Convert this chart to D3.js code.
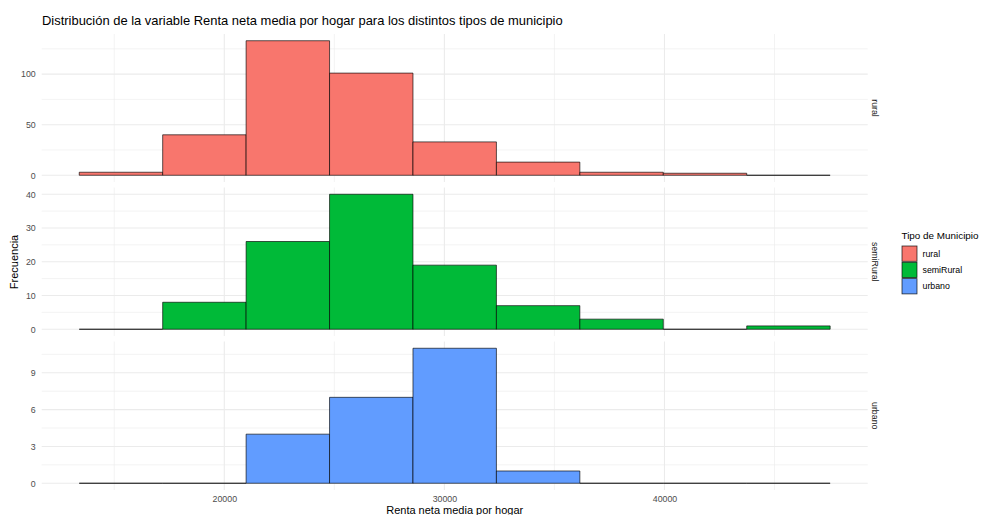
<!DOCTYPE html>
<html>
<head>
<meta charset="utf-8">
<script src="https://cdn.jsdelivr.net/npm/d3@7"></script>
<style>
  html, body { margin: 0; padding: 0; background: #fff; }
  svg { display: block; font-family: "Liberation Sans", Arial, sans-serif; }
</style>
</head>
<body>
<svg id="chart" width="981" height="515"></svg>
<script>
// ---- data ----
const categories = ["rural", "semiRural", "urbano"];
const binStart = 13409;
const binWidth = 3791;
const ruralCounts = [3, 40, 133, 101, 33, 13, 3, 2, 0];
const semiRuralCounts = [0, 8, 26, 40, 19, 7, 3, 0, 1];
const urbanoCounts = [0, 0, 4, 7, 11, 1, 0, 0, 0];
const seriesCounts = [ruralCounts, semiRuralCounts, urbanoCounts];
const colors = ["#F8766D", "#00BA38", "#619CFF"];
const xTicks = [20000, 30000, 40000];
const xMinor = [15000, 25000, 35000, 45000];
const yTicksRural = [0, 50, 100];
const yMinorRural = [25, 75, 125];
const yTicksSemi = [0, 10, 20, 30, 40];
const yMinorSemi = [5, 15, 25, 35];
const yTicksUrb = [0, 3, 6, 9];
const yMinorUrb = [1.5, 4.5, 7.5, 10.5];
const yTicks = [yTicksRural, yTicksSemi, yTicksUrb];
const yMinor = [yMinorRural, yMinorSemi, yMinorUrb];
const titleText = "Distribución de la variable Renta neta media por hogar para los distintos tipos de municipio";
const xTitle = "Renta neta media por hogar";
const yTitle = "Frecuencia";
const legendTitle = "Tipo de Municipio";

// ---- layout ----
const svg = d3.select("#chart");
const px0 = 41.7, px1 = 867.7;
const panels = [[34, 182], [187.5, 336], [341.5, 490]];

const nBins = ruralCounts.length;
const dataMin = binStart, dataMax = binStart + nBins * binWidth;
const xExp = (dataMax - dataMin) * 0.05;
const x = d3.scaleLinear().domain([dataMin - xExp, dataMax + xExp]).range([px0, px1]);

const gridCol = "#EBEBEB";

// title
svg.append("text").attr("x", 42).attr("y", 25)
  .attr("font-size", 12.95).attr("fill", "#000").text(titleText);

categories.forEach((cat, i) => {
  const counts = seriesCounts[i];
  const [top, bot] = panels[i];
  const maxC = d3.max(counts);
  const yExp = maxC * 0.05;
  const y = d3.scaleLinear().domain([-yExp, maxC + yExp]).range([bot, top]);
  const g = svg.append("g");

  // minor grid
  g.selectAll(".ymin").data(yMinor[i].filter(v => v <= maxC + yExp)).enter().append("line")
    .attr("x1", px0).attr("x2", px1).attr("y1", d => y(d)).attr("y2", d => y(d))
    .attr("stroke", gridCol).attr("stroke-width", 0.6);
  g.selectAll(".xmin").data(xMinor).enter().append("line")
    .attr("y1", top).attr("y2", bot).attr("x1", d => x(d)).attr("x2", d => x(d))
    .attr("stroke", gridCol).attr("stroke-width", 0.6);
  // major grid
  g.selectAll(".ymaj").data(yTicks[i]).enter().append("line")
    .attr("x1", px0).attr("x2", px1).attr("y1", d => y(d)).attr("y2", d => y(d))
    .attr("stroke", gridCol).attr("stroke-width", 1.1);
  g.selectAll(".xmaj").data(xTicks).enter().append("line")
    .attr("y1", top).attr("y2", bot).attr("x1", d => x(d)).attr("x2", d => x(d))
    .attr("stroke", gridCol).attr("stroke-width", 1.1);

  // y axis labels
  const yAxis = d3.axisLeft(y).tickValues(yTicks[i]).tickSize(0).tickPadding(6);
  const ga = svg.append("g").attr("transform", `translate(${px0},0)`).call(yAxis);
  ga.select(".domain").remove();
  ga.selectAll("text").attr("font-size", 8.8).attr("fill", "#4D4D4D")
    .attr("font-family", "'Liberation Sans', Arial, sans-serif");

  // bars
  g.selectAll(".bar").data(counts).enter().append("path")
    .attr("d", (d, j) => {
      const x0 = x(binStart + j * binWidth), x1 = x(binStart + (j + 1) * binWidth);
      return `M${x0},${y(0)}V${y(d)}H${x1}V${y(0)}Z`;
    })
    .attr("fill", colors[i]).attr("stroke", "#000").attr("stroke-opacity", 0.8)
    .attr("stroke-width", 0.8);

  // strip label
  const cy = (top + bot) / 2;
  svg.append("text").attr("transform", `translate(871.5,${cy}) rotate(90)`)
    .attr("text-anchor", "middle").attr("font-size", 8.8).attr("fill", "#1A1A1A")
    .text(cat);
});

// x axis labels
const xAxis = d3.axisBottom(x).tickValues(xTicks).tickSize(0).tickPadding(6).tickFormat(d3.format("d"));
const gx = svg.append("g").attr("transform", `translate(0,${panels[2][1]})`).call(xAxis);
gx.select(".domain").remove();
gx.selectAll("text").attr("font-size", 8.8).attr("fill", "#4D4D4D")
  .attr("font-family", "'Liberation Sans', Arial, sans-serif");

// axis titles
svg.append("text").attr("x", (px0 + px1) / 2).attr("y", 514).attr("text-anchor", "middle")
  .attr("font-size", 11).attr("fill", "#000").text(xTitle);
svg.append("text").attr("transform", `translate(17.5,262) rotate(-90)`).attr("text-anchor", "middle")
  .attr("font-size", 11).attr("fill", "#000").text(yTitle);

// legend
const lx = 901.5, ly = 245.5;
svg.append("text").attr("x", lx).attr("y", 239.3).attr("font-size", 9.9).attr("fill", "#000").text(legendTitle);
categories.forEach((cat, i) => {
  const yy = ly + i * 16.3;
  svg.append("rect").attr("x", lx + 0.5).attr("y", yy + 0.5).attr("width", 15).attr("height", 15.3)
    .attr("fill", colors[i]).attr("stroke", "#000").attr("stroke-opacity", 0.8).attr("stroke-width", 0.8);
  svg.append("text").attr("x", lx + 21).attr("y", yy + 8.15).attr("dy", "0.35em")
    .attr("font-size", 8.8).attr("fill", "#000").text(cat);
});
</script>
</body>
</html>
